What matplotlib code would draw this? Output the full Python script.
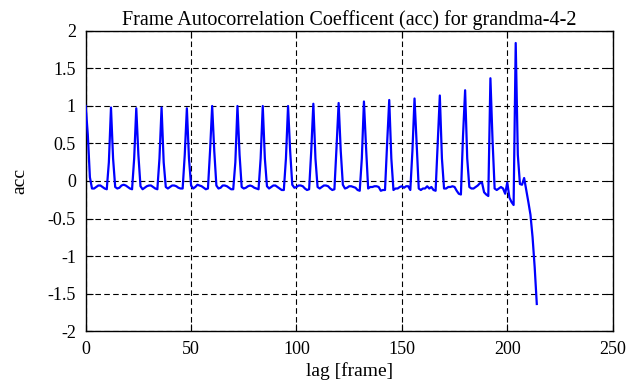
import numpy as np
import matplotlib
matplotlib.use("Agg")
import matplotlib.pyplot as plt

title = "Frame Autocorrelation Coefficent (acc) for grandma-4-2"
xlabel = "lag [frame]"
ylabel = "acc"
xticks = [0, 50, 100, 150, 200, 250]
yticks = [-2, -1.5, -1, -0.5, 0, 0.5, 1, 1.5, 2]
ytick_labels = ["-2", "-1.5", "-1", "-0.5", "0", "0.5", "1", "1.5", "2"]

acc = [
    1.0, 0.62, 0.05, -0.1, -0.1, -0.08, -0.06, -0.06, -0.08, -0.1, -0.11, 0.25,
    0.98, 0.3, -0.08, -0.1, -0.09, -0.06, -0.05, -0.06, -0.08, -0.1, -0.11, 0.3,
    0.97, 0.35, -0.07, -0.11, -0.09, -0.07, -0.06, -0.06, -0.08, -0.1, -0.11, 0.3,
    0.98, 0.25, -0.08, -0.1, -0.08, -0.06, -0.06, -0.07, -0.09, -0.1, -0.1, 0.35,
    0.97, 0.3, -0.06, -0.1, -0.08, -0.05, -0.06, -0.07, -0.09, -0.11, -0.1, 0.4,
    1.0, 0.4, -0.06, -0.1, -0.09, -0.06, -0.06, -0.07, -0.09, -0.11, -0.11, 0.25,
    1.0, 0.35, -0.08, -0.1, -0.09, -0.07, -0.06, -0.07, -0.09, -0.1, -0.11, 0.3,
    1.0, 0.3, -0.07, -0.1, -0.08, -0.06, -0.06, -0.08, -0.1, -0.12, -0.12, 0.3,
    1.0, 0.4, -0.05, -0.09, -0.08, -0.06, -0.06, -0.07, -0.1, -0.12, -0.11, 0.4,
    1.03, 0.3, -0.08, -0.1, -0.08, -0.06, -0.06, -0.07, -0.1, -0.12, -0.11, 0.45,
    1.04, 0.4, -0.05, -0.1, -0.09, -0.07, -0.07, -0.08, -0.09, -0.12, -0.13, 0.3,
    1.06, 0.45, -0.1, -0.08, -0.08, -0.07, -0.07, -0.08, -0.13, -0.12, -0.12, 0.5,
    1.08, 0.3, -0.12, -0.1, -0.1, -0.08, -0.07, -0.09, -0.07, -0.07, -0.12, 0.4,
    1.1, 0.5, -0.1, -0.12, -0.1, -0.1, -0.07, -0.1, -0.08, -0.12, -0.13, 0.5,
    1.14, 0.3, -0.1, -0.1, -0.08, -0.08, -0.07, -0.08, -0.13, -0.17, -0.18, 0.6,
    1.21, 0.3, -0.08, -0.1, -0.1, -0.08, -0.06, -0.03, -0.02, -0.15, -0.18, -0.2,
    1.37, 0.55, -0.1, -0.12, -0.1, -0.08, -0.1, -0.17, -0.02, -0.22, -0.28, -0.32,
    1.84, 0.35, -0.04, -0.05, 0.04, -0.12, -0.28, -0.45, -0.75, -1.15, -1.64,
]
lags = np.arange(len(acc))

plt.rcParams["font.family"] = ["Liberation Serif", "DejaVu Serif"]

fig = plt.figure(figsize=(6.3, 3.87), dpi=100)
ax = fig.add_axes([0.136, 0.1447, 0.8365, 0.7752])

ax.plot(lags, acc, color="#0000ff", lw=1.6, zorder=3)

ax.set_xlim(0, 250)
ax.set_ylim(-2, 2)
ax.set_xticks(xticks)
ax.set_yticks(yticks)
ax.set_yticklabels(ytick_labels)
ax.grid(True, color="black", linestyle=(0, (5, 3)), lw=0.8)

ax.tick_params(direction="in", length=5, width=0.8, top=True, right=True,
               labelsize=13, pad=7, colors="black")
for s in ax.spines.values():
    s.set_linewidth(1.0)
    s.set_color("black")

ax.set_title(title, fontsize=14.5, pad=4)
ax.set_xlabel(xlabel, fontsize=14, labelpad=3)
ax.set_ylabel(ylabel, fontsize=14, labelpad=14)

fig.savefig("out.png", dpi=100)
